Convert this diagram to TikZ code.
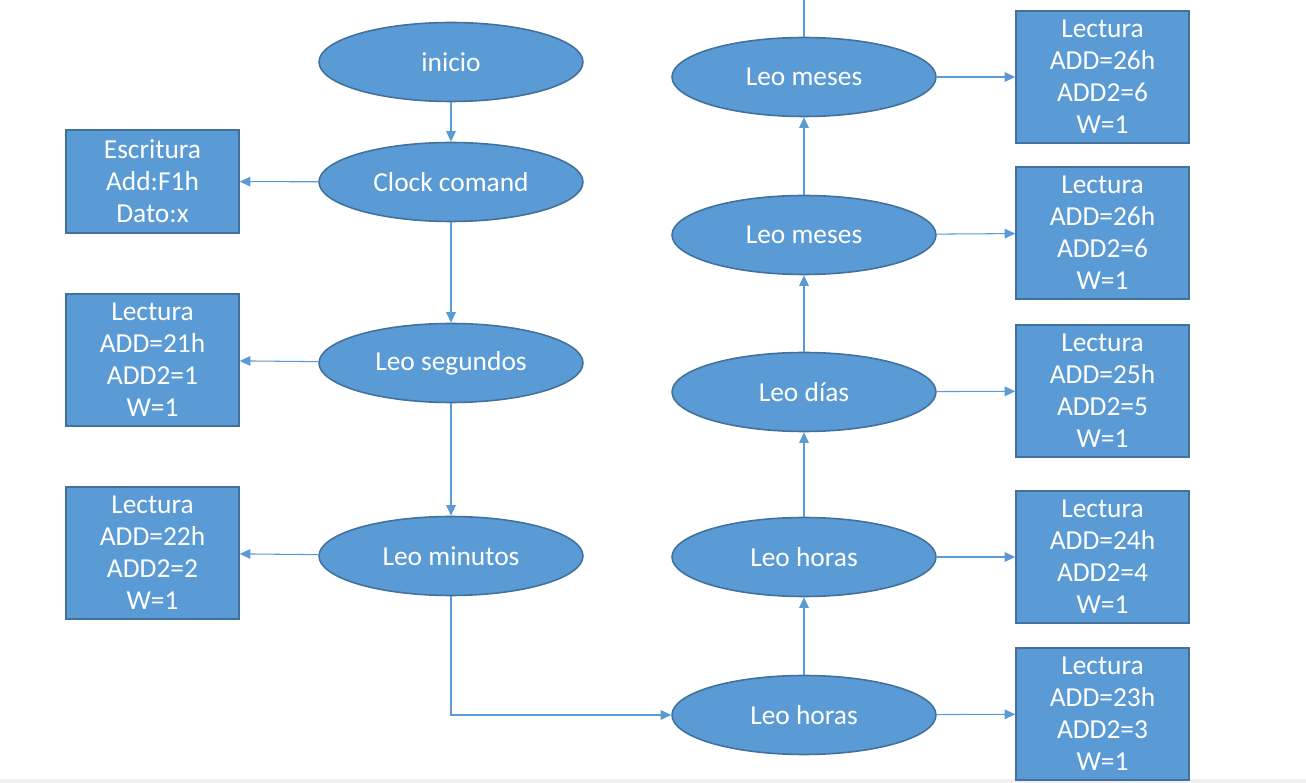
\documentclass[tikz,border=0pt]{standalone}
\usepackage{fontspec}
\setmainfont{Carlito}
\usetikzlibrary{positioning,shapes,arrows.meta}
\definecolor{fillblue}{HTML}{5B9BD5}
\definecolor{edgeblue}{HTML}{41719C}

\begin{document}
\begin{tikzpicture}[x=0.02cm,y=-0.02cm,
                    thin,
                    state node/.style={ellipse,fill=fillblue,draw=edgeblue,line width=0.9pt,
                      minimum width=5.28cm,minimum height=1.58cm,inner sep=0pt,
                      text=white,font=\fontsize{15.6}{18.2}\selectfont},
                    reg node/.style={rectangle,fill=fillblue,draw=edgeblue,line width=0.9pt,
                      minimum width=3.46cm,minimum height=2.64cm,inner sep=0pt,align=center,
                      text=white,font=\fontsize{15.6}{18.2}\selectfont},
                    conn/.style={draw=fillblue,line width=0.6pt,
                      -{Triangle[length=6pt,width=5.5pt,fill=fillblue]}}
                   ]
  \useasboundingbox (0,0) rectangle (1306,783);
  \fill[gray!12] (0,779) rectangle (1306,783);

  % left column
  \node[state node] (ini) at (451,62) {inicio};
  \node[state node] (clk) at (451,182) {Clock comand};
  \node[state node] (seg) at (451,363) {Leo segundos};
  \node[state node] (min) at (451,556) {Leo minutos};

  \node[reg node,minimum height=2.06cm] (esc) at (152.5,181.5) {Escritura\\Add:F1h\\Dato:x};
  \node[reg node] (rseg) at (152.5,360) {Lectura\\ADD=21h\\ADD2=1\\W=1};
  \node[reg node] (rmin) at (152.5,553) {Lectura\\ADD=22h\\ADD2=2\\W=1};

  % right column
  \node[state node] (hor1) at (804,715) {Leo horas};
  \node[state node] (hor2) at (804,557) {Leo horas};
  \node[state node] (dia) at (804,392) {Leo días};
  \node[state node] (mes1) at (804,235) {Leo meses};
  \node[state node] (mes2) at (804,77) {Leo meses};
  \coordinate (top) at (804,0);

  \node[reg node] (rhor1) at (1102.5,714) {Lectura\\ADD=23h\\ADD2=3\\W=1};
  \node[reg node] (rhor2) at (1102.5,557) {Lectura\\ADD=24h\\ADD2=4\\W=1};
  \node[reg node] (rdia) at (1102.5,391) {Lectura\\ADD=25h\\ADD2=5\\W=1};
  \node[reg node] (rmes1) at (1102.5,233) {Lectura\\ADD=26h\\ADD2=6\\W=1};
  \node[reg node] (rmes2) at (1102.5,77) {Lectura\\ADD=26h\\ADD2=6\\W=1};

  \path[conn]%
      (ini) edge (clk)
      (clk) edge (esc)
      (clk) edge (seg)
      (seg) edge (rseg)
      (seg) edge (min)
      (min) edge (rmin)
      (hor1) edge (hor2)
      (hor2) edge (dia)
      (dia) edge (mes1)
      (mes1) edge (mes2)
      (hor1) edge (rhor1)
      (hor2) edge (rhor2)
      (dia) edge (rdia)
      (mes1) edge (rmes1)
      (mes2) edge (rmes2);
  \draw[conn] (min) |- (hor1);
  \draw[draw=fillblue,line width=0.6pt] (mes2) -- (top);
\end{tikzpicture}
\end{document}
